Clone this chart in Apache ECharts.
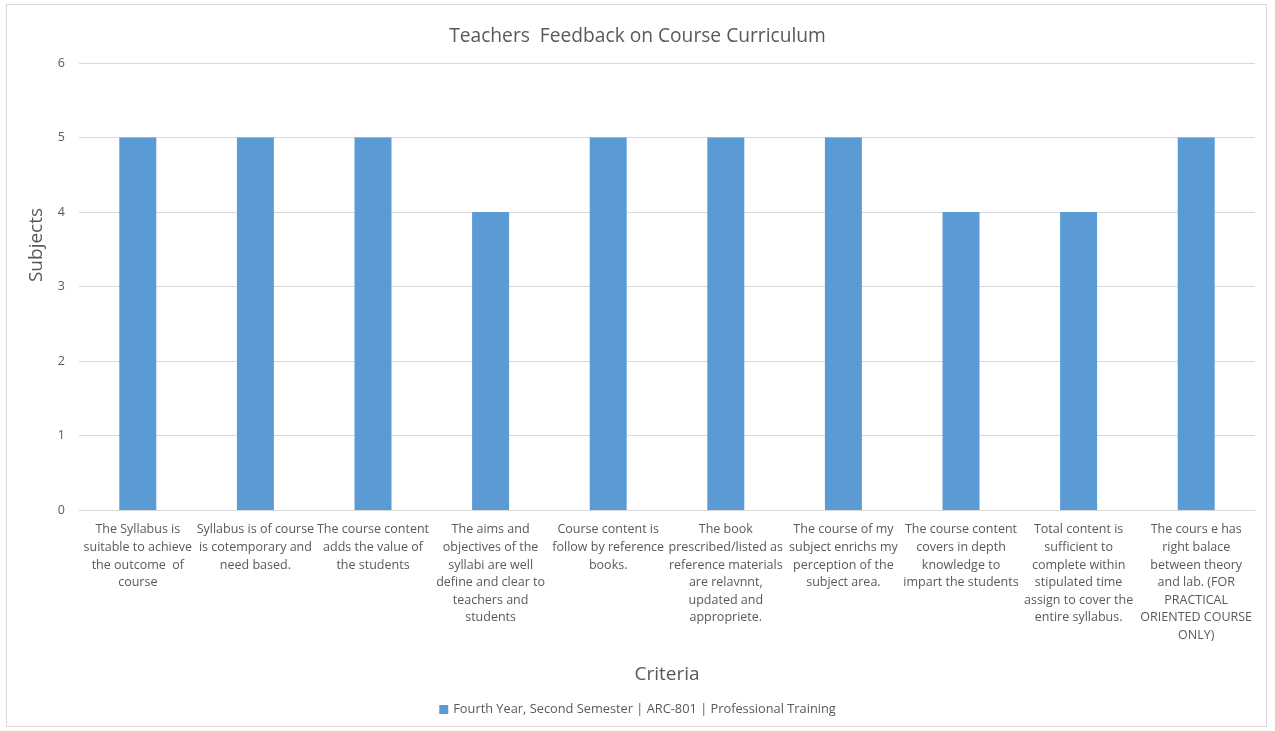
<!DOCTYPE html>
<html>
<head>
<meta charset="utf-8">
<script src="https://cdn.jsdelivr.net/npm/echarts@6/dist/echarts.min.js"></script>
<style>
html,body{margin:0;padding:0;background:#fff;}
#frame{position:absolute;left:6px;top:4px;width:1261px;height:723px;border:1px solid #d9d9d9;box-sizing:border-box;}
#chart{position:absolute;left:0;top:0;width:1275px;height:731px;}
</style>
</head>
<body>
<div id="frame"></div>
<div id="chart"></div>
<script>
const titleText = 'Teachers  Feedback on Course Curriculum';
const seriesName = 'Fourth Year, Second Semester | ARC-801 | Professional Training';
const categories = [
  'The Syllabus is\nsuitable to achieve\nthe outcome  of\ncourse',
  'Syllabus is of course\nis cotemporary and\nneed based.',
  'The course content\nadds the value of\nthe students',
  'The aims and\nobjectives of the\nsyllabi are well\ndefine and clear to\nteachers and\nstudents',
  'Course content is\nfollow by reference\nbooks.',
  'The book\nprescribed/listed as\nreference materials\nare relavnnt,\nupdated and\nappropriete.',
  'The course of my\nsubject enrichs my\nperception of the\nsubject area.',
  'The course content\ncovers in depth\nknowledge to\nimpart the students',
  'Total content is\nsufficient to\ncomplete within\nstipulated time\nassign to cover the\nentire syllabus.',
  'The cours e has\nright balace\nbetween theory\nand lab. (FOR\nPRACTICAL\nORIENTED COURSE\nONLY)'
];
const values = [5, 5, 5, 4, 5, 5, 5, 4, 4, 5];
const yTicks = {min: 0, max: 6, interval: 1};
const xAxisTitle = 'Criteria';
const yAxisTitle = 'Subjects';

const font = 'Open Sans, Liberation Sans, sans-serif';
const chart = echarts.init(document.getElementById('chart'));
chart.setOption({
  animation: false,
  textStyle: {fontFamily: font},
  title: {
    text: titleText,
    left: 'center',
    top: 22,
    textStyle: {fontSize: 19.2, fontWeight: 'normal', color: '#595959', fontFamily: font}
  },
  legend: {
    bottom: 10,
    left: 'center',
    itemWidth: 9,
    itemHeight: 9,
    itemGap: 5,
    icon: 'rect',
    textStyle: {fontSize: 12.8, color: '#595959', fontFamily: font},
    data: [seriesName]
  },
  grid: {left: 79, right: 20, top: 63, bottom: 221, containLabel: false},
  graphic: [{
    type: 'text',
    x: 37,
    y: 245,
    rotation: Math.PI / 2,
    style: {
      text: yAxisTitle,
      fontSize: 19,
      fill: '#595959',
      fontFamily: font,
      align: 'center',
      verticalAlign: 'middle'
    }
  }],
  xAxis: {
    type: 'category',
    data: categories,
    axisTick: {show: false},
    axisLine: {lineStyle: {color: '#d9d9d9'}},
    axisLabel: {
      interval: 0,
      fontSize: 12.5,
      lineHeight: 17.6,
      color: '#595959',
      margin: 11,
      fontFamily: font
    },
    name: xAxisTitle,
    nameLocation: 'middle',
    nameGap: 155,
    nameTextStyle: {fontSize: 19, color: '#595959', fontFamily: font}
  },
  yAxis: {
    type: 'value',
    min: yTicks.min,
    max: yTicks.max,
    interval: yTicks.interval,
    axisLine: {show: false},
    axisTick: {show: false},
    splitLine: {lineStyle: {color: '#d9d9d9'}},
    axisLabel: {fontSize: 12.5, color: '#595959', margin: 14, fontFamily: font}
  },
  series: [{
    name: seriesName,
    type: 'bar',
    data: values,
    barWidth: 37,
    itemStyle: {color: '#5b9bd5'}
  }]
});
</script>
</body>
</html>
